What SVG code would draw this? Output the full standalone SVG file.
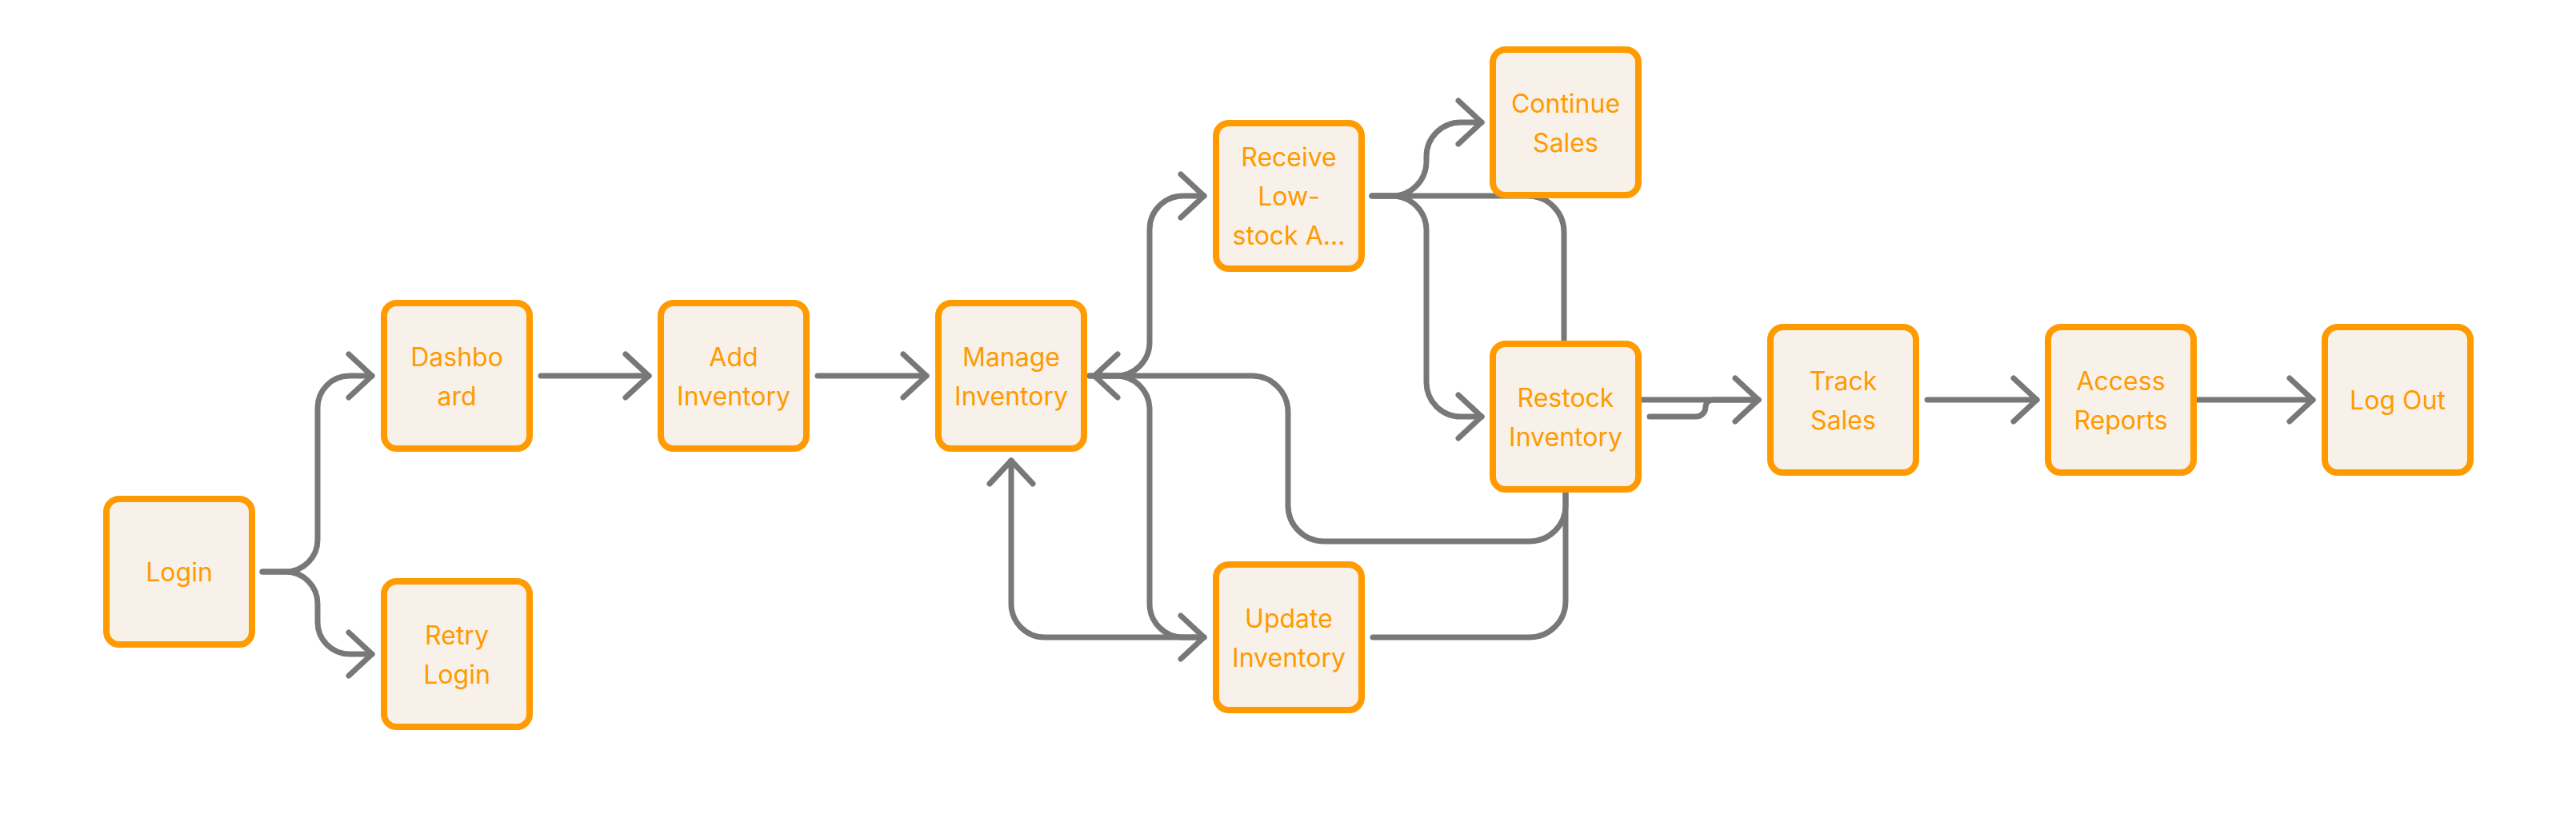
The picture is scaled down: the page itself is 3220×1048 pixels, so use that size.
<svg xmlns="http://www.w3.org/2000/svg" width="3220" height="1048" viewBox="0 0 3220 1048">
<style>
.node rect{fill:#F8F1E9;stroke:#FF9A00;stroke-width:8}
.node text{fill:#FF9A00;font-family:Inter,"Noto Sans",sans-serif;font-size:32px;text-anchor:middle}
.edge{fill:none;stroke:#787878;stroke-width:7;stroke-linecap:round;stroke-linejoin:round}
.arrow{marker-end:url(#arr)}
</style>
<defs>
<marker id="arr" markerUnits="userSpaceOnUse" markerWidth="60" markerHeight="80" viewBox="-45 -40 60 80" refX="0" refY="0" orient="auto" overflow="visible">
<path d="M-29,-27 L0,0 L-29,27" fill="none" stroke="#787878" stroke-width="7" stroke-linecap="round" stroke-linejoin="round"/>
</marker>
</defs>
<rect width="3220" height="1048" fill="#FFFFFF"/>
<g id="connectors">
<path class="edge arrow" d="M328 715 L357 715 A40 40 0 0 0 397 675 L397 510 A40 40 0 0 1 437 470 L465 470"/>
<path class="edge arrow" d="M328 715 L357 715 A40 40 0 0 1 397 755 L397 778 A40 40 0 0 0 437 818 L465 818"/>
<path class="edge arrow" d="M676 470 L811 470"/>
<path class="edge arrow" d="M1022 470 L1158 470"/>
<path class="edge arrow" d="M1362 470 L1395 470 A42 42 0 0 0 1437 428 L1437 287 A42 42 0 0 1 1479 245 L1505 245"/>
<path class="edge arrow" d="M1362 470 L1395 470 A42 42 0 0 1 1437 512 L1437 755 A42 42 0 0 0 1479 797 L1505 797"/>
<path class="edge arrow" d="M1505 797 L1306 797 A42 42 0 0 1 1264 755 L1264 576"/>
<path class="edge arrow" d="M1957 612 L1957 632 A45 45 0 0 1 1912 677 L1655 677 A45 45 0 0 1 1610 632 L1610 515 A45 45 0 0 0 1565 470 L1368 470"/>
<path class="edge" d="M1716 797 L1912 797 A45 45 0 0 0 1957 752 L1957 615"/>
<path class="edge" d="M1715 245 L1910 245 A45 45 0 0 1 1955 290 L1955 430"/>
<path class="edge arrow" d="M1715 245 L1740 245 A43 43 0 0 0 1783 202 L1783 196 A43 43 0 0 1 1826 153 L1852 153"/>
<path class="edge arrow" d="M1715 245 L1740 245 A43 43 0 0 1 1783 288 L1783 478 A43 43 0 0 0 1826 521 L1852 521"/>
<path class="edge arrow" d="M2050 500 L2198 500"/>
<path class="edge" d="M2062 521 L2120 521 A12 12 0 0 0 2132 509 A9 9 0 0 1 2141 500 L2198 500"/>
<path class="edge arrow" d="M2409 500 L2546 500"/>
<path class="edge arrow" d="M2745 500 L2891 500"/>
</g>
<g id="node-login" class="node"><rect x="133" y="624" width="182" height="182" rx="16"/><text x="224" y="727">Login</text></g>
<g id="node-dashboard" class="node"><rect x="480" y="379" width="182" height="182" rx="16"/><text x="571" y="458">Dashbo</text><text x="571" y="507">ard</text></g>
<g id="node-retry-login" class="node"><rect x="480" y="727" width="182" height="182" rx="16"/><text x="571" y="806">Retry</text><text x="571" y="855">Login</text></g>
<g id="node-add-inventory" class="node"><rect x="826" y="379" width="182" height="182" rx="16"/><text x="917" y="458">Add</text><text x="917" y="507">Inventory</text></g>
<g id="node-manage-inventory" class="node"><rect x="1173" y="379" width="182" height="182" rx="16"/><text x="1264" y="458">Manage</text><text x="1264" y="507">Inventory</text></g>
<g id="node-receive-alert" class="node"><rect x="1520" y="154" width="182" height="182" rx="16"/><text x="1611" y="208">Receive</text><text x="1611" y="257">Low-</text><text x="1611" y="306">stock A...</text></g>
<g id="node-update-inventory" class="node"><rect x="1520" y="706" width="182" height="182" rx="16"/><text x="1611" y="785">Update</text><text x="1611" y="834">Inventory</text></g>
<g id="node-continue-sales" class="node"><rect x="1866" y="62" width="182" height="182" rx="16"/><text x="1957" y="141">Continue</text><text x="1957" y="190">Sales</text></g>
<g id="node-restock-inventory" class="node"><rect x="1866" y="430" width="182" height="182" rx="16"/><text x="1957" y="509">Restock</text><text x="1957" y="558">Inventory</text></g>
<g id="node-track-sales" class="node"><rect x="2213" y="409" width="182" height="182" rx="16"/><text x="2304" y="488">Track</text><text x="2304" y="537">Sales</text></g>
<g id="node-access-reports" class="node"><rect x="2560" y="409" width="182" height="182" rx="16"/><text x="2651" y="488">Access</text><text x="2651" y="537">Reports</text></g>
<g id="node-log-out" class="node"><rect x="2906" y="409" width="182" height="182" rx="16"/><text x="2997" y="512">Log Out</text></g>
</svg>
